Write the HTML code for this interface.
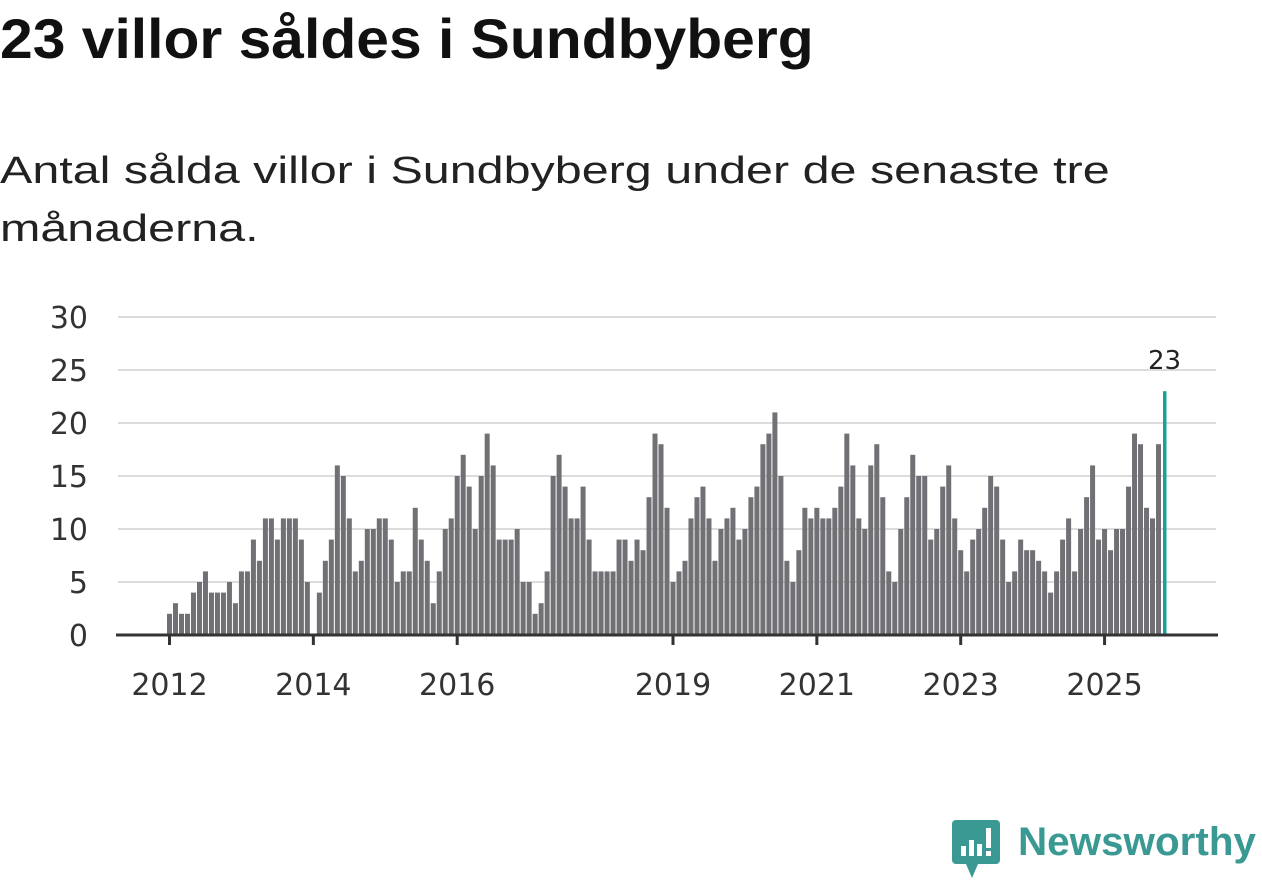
<!DOCTYPE html>
<html><head><meta charset="utf-8">
<style>
body{margin:0;width:1262px;height:879px;background:#fff;overflow:hidden;font-family:"Liberation Sans",sans-serif;}
#title{position:absolute;left:0;top:6px;font-size:56px;font-weight:bold;color:#111;margin:0;white-space:nowrap;transform:scaleX(1.05);transform-origin:left top}
#sub{position:absolute;left:0;top:142px;font-size:38px;color:#222;line-height:58px;white-space:nowrap;transform:scaleX(1.275);transform-origin:left top}
svg{position:absolute;left:0;top:0}
</style></head><body>
<h1 id="title">23 villor såldes i Sundbyberg</h1>
<div id="sub">Antal sålda villor i Sundbyberg under de senaste tre<br>månaderna.</div>
<svg id="chart" width="1262" height="879"></svg>
<div style="position:absolute;left:952px;top:820px;">
<svg width="50" height="60" style="position:static">
<rect x="0" y="0" width="48" height="44" rx="4" fill="#3a9a93"/>
<polygon points="14,44 26,44 20,58" fill="#3a9a93"/>
<rect x="9" y="26" width="5" height="10" fill="#fff"/><rect x="17" y="20" width="5" height="16" fill="#fff"/><rect x="25" y="24" width="5" height="12" fill="#fff"/><rect x="34" y="8" width="5" height="20" fill="#fff"/><rect x="34" y="31" width="5" height="5" fill="#fff"/>
</svg></div>
<div style="position:absolute;left:1018px;top:820px;font-size:40px;font-weight:bold;color:#3a9a93;white-space:nowrap;transform:scaleX(1.01);transform-origin:left top">Newsworthy</div>
<script>
const values=[2,3,2,2,4,5,6,4,4,4,5,3,
6,6,9,7,11,11,9,11,11,11,9,5,
0,4,7,9,16,15,11,6,7,10,10,11,
11,9,5,6,6,12,9,7,3,6,10,11,
15,17,14,10,15,19,16,9,9,9,10,5,
5,2,3,6,15,17,14,11,11,14,9,6,
6,6,6,9,9,7,9,8,13,19,18,12,
5,6,7,11,13,14,11,7,10,11,12,9,
10,13,14,18,19,21,15,7,5,8,12,11,
12,11,11,12,14,19,16,11,10,16,18,13,
6,5,10,13,17,15,15,9,10,14,16,11,
8,6,9,10,12,15,14,9,5,6,9,8,
8,7,6,4,6,9,11,6,10,13,16,9,
10,8,10,10,14,19,18,12,11,18,23];
const yTicks=[0,5,10,15,20,25,30];
const xTickYears=[2012,2014,2016,2019,2021,2023,2025];
const startYear=2012;
const svg=document.getElementById('chart');
const NS='http://www.w3.org/2000/svg';
const x0=169.5,step=5.994,yBase=635,yScale=10.6;
const FF='DejaVu Sans,sans-serif';
function xm(i){return x0+i*step;}
function y(v){return yBase-v*yScale;}
function mk(t,a){const e=document.createElementNS(NS,t);for(const k in a)e.setAttribute(k,a[k]);svg.appendChild(e);return e;}
yTicks.forEach(v=>{
  if(v>0){const l=mk('line',{x1:118,x2:1216,y1:y(v),y2:y(v),stroke:'#dcdcdc','stroke-width':2});
  
  }
  const t=mk('text',{x:88,y:y(v)+11,'text-anchor':'end','font-size':30,fill:'#333','font-family':FF});
  t.textContent=v;
  
  
});
values.forEach((v,i)=>{
  const last=i===values.length-1;
  const r=mk('rect',{x:xm(i)-(last?1.5:2.5),y:y(v),width:last?3.5:5,height:v*yScale,fill:last?'#17a398':'#717075'});
  
  
});
const lab=mk('text',{x:xm(values.length-1),y:369,'text-anchor':'middle','font-size':26,fill:'#222','font-family':FF});
lab.textContent=values[values.length-1];


const base=mk('line',{x1:116,x2:1218,y1:yBase,y2:yBase,stroke:'#333','stroke-width':3});


xTickYears.forEach(yr=>{
  const i=(yr-startYear)*12;
  const tk=mk('line',{x1:xm(i),x2:xm(i),y1:yBase,y2:yBase+10,stroke:'#333','stroke-width':3});
  
  
  const t=mk('text',{x:xm(i),y:695,'text-anchor':'middle','font-size':30,fill:'#333','font-family':FF});
  t.textContent=yr;
  
  
});
</script>
</body></html>
